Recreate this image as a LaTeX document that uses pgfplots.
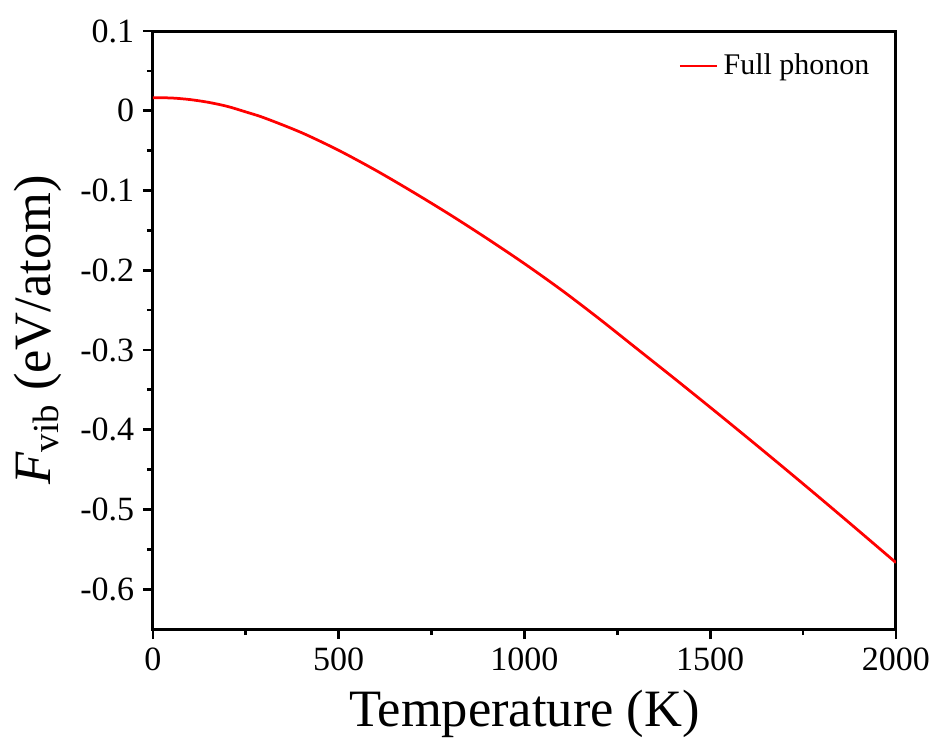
\documentclass[border=0pt]{standalone}
\usepackage{fontspec}
\setmainfont{Liberation Serif}
\usepackage{pgfplots}
\pgfplotsset{compat=1.18}
\begin{document}
\begin{tikzpicture}
\begin{axis}[
  name=ax,
  at={(0,0)}, anchor=south west,
  scale only axis,
  width=297.2pt, height=239.2pt,
  xmin=0, xmax=2000, ymin=-0.65, ymax=0.1,
  xtick={0,500,1000,1500,2000},
  ytick={-0.6,-0.5,-0.4,-0.3,-0.2,-0.1,0,0.1},
  minor x tick num=1, minor y tick num=1,
  axis line style={line width=1.2pt},
  tick style={line width=1.1pt, black},
  major tick length=4pt, minor tick length=2.4pt,
  tick align=outside,
  xtick pos=bottom, ytick pos=left,
  /pgf/number format/assume math mode=true,
  yticklabel style={/pgf/number format/.cd, fixed, precision=1},
  xticklabel style={/pgf/number format/.cd, set thousands separator={}},
  ticklabel style={font=\fontsize{13.6}{16}\selectfont},
  xlabel={Temperature (K)},
  ylabel={\textit{F}\textsubscript{vib} (eV/atom)},
  label style={font=\fontsize{21}{24}\selectfont},
  xlabel style={yshift=-1pt},
  ylabel style={yshift=0.5pt},
  legend style={draw=none, fill=none, at={(0.975,0.975)}, anchor=north east,
    font=\fontsize{12}{14}\selectfont, inner sep=1pt},
  legend cell align=left,
  legend image code/.code={\draw[#1, line width=1pt] (0pt,0pt) -- (15pt,0pt);},
]
\addplot[red, line width=1.1pt, smooth] table {
T F
0 0.0163
50 0.0160
100 0.0140
150 0.0105
200 0.0055
250 -0.0015
300 -0.0090
400 -0.0275
500 -0.0497
600 -0.0748
700 -0.1020
800 -0.1305
900 -0.1605
1000 -0.1918
1100 -0.2250
1200 -0.2605
1300 -0.2975
1400 -0.3345
1500 -0.3720
1600 -0.4100
1700 -0.4485
1800 -0.4875
1900 -0.5270
2000 -0.5668
};
\addlegendentry{Full phonon}
\end{axis}
\pgfresetboundingbox
\path[use as bounding box] (-61.2pt,-43.6pt) rectangle (314.4pt,251.6pt);
\end{tikzpicture}
\end{document}
